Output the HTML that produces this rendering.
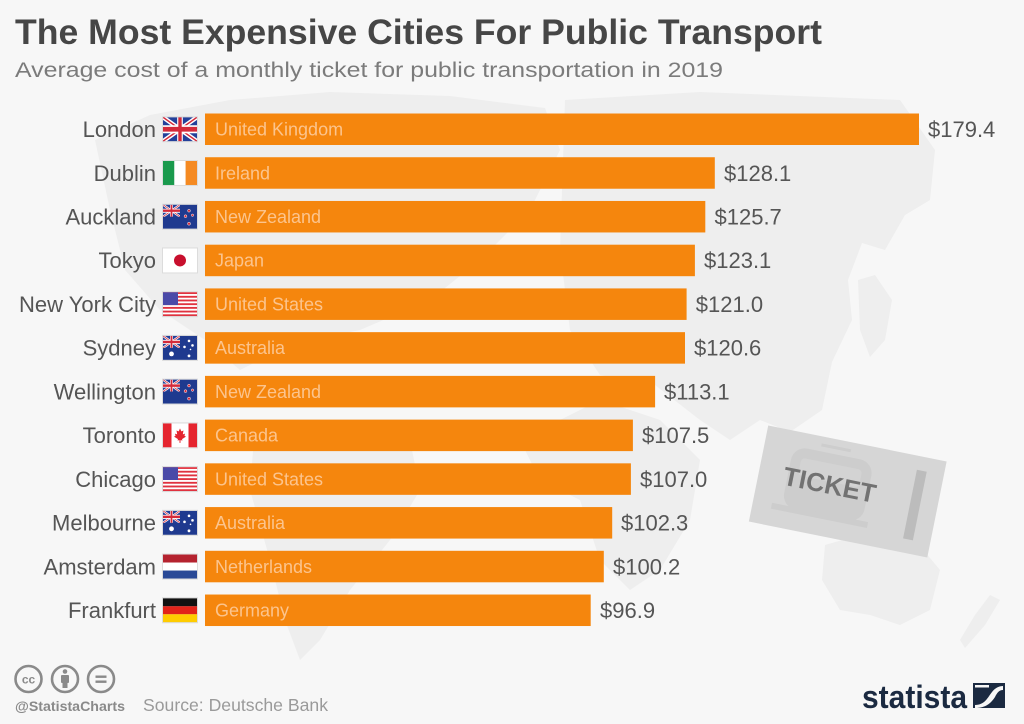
<!DOCTYPE html>
<html>
<head>
<meta charset="utf-8">
<style>
html,body{margin:0;padding:0;background:#f7f7f7;}
svg{display:block;}
text{font-family:"Liberation Sans",sans-serif;}
</style>
</head>
<body>
<svg width="1024" height="724" viewBox="0 0 1024 724" xmlns="http://www.w3.org/2000/svg">
<defs>
  <symbol id="uk" viewBox="0 0 60 30" preserveAspectRatio="none">
    <rect width="60" height="30" fill="#23409a"/>
    <path d="M0,0 L60,30 M60,0 L0,30" stroke="#fff" stroke-width="6"/>
    <path d="M0,0 L60,30 M60,0 L0,30" stroke="#d42a3a" stroke-width="2"/>
    <path d="M30,0 V30 M0,15 H60" stroke="#fff" stroke-width="10"/>
    <path d="M30,0 V30 M0,15 H60" stroke="#d42a3a" stroke-width="6"/>
  </symbol>
  <symbol id="ie" viewBox="0 0 34 24" preserveAspectRatio="none">
    <rect x="0" width="11.4" height="24" fill="#1a9a4d"/>
    <rect x="11.3" width="11.4" height="24" fill="#ffffff"/>
    <rect x="22.6" width="11.4" height="24" fill="#f58a22"/>
  </symbol>
  <symbol id="nz" viewBox="0 0 34 24" preserveAspectRatio="none">
    <rect width="34" height="24" fill="#1f3a8f"/>
    <use href="#uk" x="0" y="0" width="17" height="12"/>
    <circle cx="26" cy="6" r="1.4" fill="#d42a3a" stroke="#fff" stroke-width="0.5"/>
    <circle cx="22.5" cy="11.5" r="1.4" fill="#d42a3a" stroke="#fff" stroke-width="0.5"/>
    <circle cx="29.5" cy="10.5" r="1.2" fill="#d42a3a" stroke="#fff" stroke-width="0.5"/>
    <circle cx="26" cy="19" r="1.5" fill="#d42a3a" stroke="#fff" stroke-width="0.5"/>
  </symbol>
  <symbol id="au" viewBox="0 0 34 24" preserveAspectRatio="none">
    <rect width="34" height="24" fill="#1f3a8f"/>
    <use href="#uk" x="0" y="0" width="17" height="12"/>
    <circle cx="8.5" cy="18" r="2.4" fill="#fff"/>
    <circle cx="26" cy="5" r="1.3" fill="#fff"/>
    <circle cx="21.5" cy="11" r="1.3" fill="#fff"/>
    <circle cx="29.5" cy="9.5" r="1.3" fill="#fff"/>
    <circle cx="26" cy="20" r="1.4" fill="#fff"/>
    <circle cx="27.5" cy="13.5" r="0.8" fill="#fff"/>
  </symbol>
  <symbol id="jp" viewBox="0 0 34 24" preserveAspectRatio="none">
    <rect width="34" height="24" fill="#ffffff"/>
    <circle cx="17" cy="12" r="6" fill="#c8102e"/>
  </symbol>
  <symbol id="us" viewBox="0 0 34 24" preserveAspectRatio="none">
    <rect width="34" height="24" fill="#fff"/>
    <g fill="#e0323f">
      <rect y="0" width="34" height="1.85"/>
      <rect y="3.69" width="34" height="1.85"/>
      <rect y="7.38" width="34" height="1.85"/>
      <rect y="11.08" width="34" height="1.85"/>
      <rect y="14.77" width="34" height="1.85"/>
      <rect y="18.46" width="34" height="1.85"/>
      <rect y="22.15" width="34" height="1.85"/>
    </g>
    <rect width="15" height="12.9" fill="#4a4aa8"/>
  </symbol>
  <symbol id="ca" viewBox="0 0 34 24" preserveAspectRatio="none">
    <rect width="34" height="24" fill="#fff"/>
    <rect width="8.5" height="24" fill="#e5252f"/>
    <rect x="25.5" width="8.5" height="24" fill="#e5252f"/>
    <path d="M17,5 L18.3,8 L20.5,7.2 L19.8,11 L22,10.3 L21.5,12.5 L23,13.3 L19,15.8 L19.5,17.2 L17.5,16.8 L17.5,19.5 L16.5,19.5 L16.5,16.8 L14.5,17.2 L15,15.8 L11,13.3 L12.5,12.5 L12,10.3 L14.2,11 L13.5,7.2 L15.7,8 Z" fill="#e5252f"/>
  </symbol>
  <symbol id="nl" viewBox="0 0 34 24" preserveAspectRatio="none">
    <rect width="34" height="8" fill="#b5232f"/>
    <rect y="8" width="34" height="8" fill="#fff"/>
    <rect y="16" width="34" height="8" fill="#2a4a97"/>
  </symbol>
  <symbol id="de" viewBox="0 0 34 24" preserveAspectRatio="none">
    <rect width="34" height="8" fill="#111"/>
    <rect y="8" width="34" height="8" fill="#e2231a"/>
    <rect y="16" width="34" height="8" fill="#ffcc00"/>
  </symbol>
</defs>

<rect width="1024" height="724" fill="#f7f7f7"/>

<!-- faint world map -->
<g fill="#eeeeee">
  <path d="M95,140 L150,115 L230,100 L330,92 L450,96 L545,108 L560,150 L530,210 L480,260 L430,300 L360,330 L290,345 L240,370 L205,340 L160,310 L125,270 L110,210 Z"/>
  <path d="M255,425 L330,420 L410,440 L420,490 L390,540 L350,590 L320,640 L300,660 L285,620 L270,560 L250,490 Z"/>
  <path d="M565,100 L700,92 L900,100 L935,150 L930,200 L905,215 L885,250 L862,243 L848,280 L852,320 L832,362 L822,410 L790,432 L760,420 L730,440 L700,420 L655,385 L600,375 L570,330 L560,250 Z"/>
  <path d="M520,440 L600,400 L660,420 L700,460 L690,520 L660,570 L630,590 L600,560 L580,500 L540,480 Z"/>
  <path d="M825,545 L870,532 L915,540 L940,570 L930,610 L900,625 L870,615 L840,610 L822,580 Z"/>
  <path d="M960,640 L975,615 L990,595 L1000,600 L985,625 L965,648 Z"/>
  <path d="M858,280 L875,275 L892,300 L885,340 L870,357 L860,330 Z"/>
</g>

<!-- Title -->
<text x="15" y="44" font-size="35" font-weight="bold" fill="#464646" textLength="807" lengthAdjust="spacingAndGlyphs">The Most Expensive Cities For Public Transport</text>
<text x="15" y="77" font-size="21" fill="#7b7b7b" textLength="708" lengthAdjust="spacingAndGlyphs">Average cost of a monthly ticket for public transportation in 2019</text>

<!-- Ticket -->
<g transform="translate(847.75,491.5) rotate(11.4)">
  <rect x="-91" y="-49" width="182" height="98" fill="#d6d6d6"/>
  <g fill="#cdcdcd">
    <rect x="-62" y="-34" width="82" height="62" rx="14"/>
    <rect x="-72" y="26" width="98" height="6"/>
    <rect x="-35" y="-42" width="30" height="3"/>
  </g>
  <rect x="-52" y="-24" width="62" height="18" rx="4" fill="#d3d3d3"/>
  <rect x="63.5" y="-35" width="10" height="70" fill="#bcbcbc"/>
  <text x="-19" y="6" font-size="26" font-weight="bold" fill="#727272" text-anchor="middle">TICKET</text>
</g>

<!-- Bars -->
<g fill="#f5860d">
  <rect x="205" y="113.5" width="714" height="31.5"/>
  <rect x="205" y="157.23" width="509.8" height="31.5"/>
  <rect x="205" y="200.96" width="500.3" height="31.5"/>
  <rect x="205" y="244.69" width="489.9" height="31.5"/>
  <rect x="205" y="288.42" width="481.6" height="31.5"/>
  <rect x="205" y="332.15" width="480" height="31.5"/>
  <rect x="205" y="375.88" width="450.1" height="31.5"/>
  <rect x="205" y="419.61" width="427.9" height="31.5"/>
  <rect x="205" y="463.34" width="425.9" height="31.5"/>
  <rect x="205" y="507.07" width="407.2" height="31.5"/>
  <rect x="205" y="550.8" width="398.8" height="31.5"/>
  <rect x="205" y="594.53" width="385.7" height="31.5"/>
</g>

<!-- Bar inner labels -->
<g font-size="18" fill="#fcc48d">
  <text x="215" y="135.6">United Kingdom</text>
  <text x="215" y="179.3">Ireland</text>
  <text x="215" y="223">New Zealand</text>
  <text x="215" y="266.7">Japan</text>
  <text x="215" y="310.5">United States</text>
  <text x="215" y="354.2">Australia</text>
  <text x="215" y="397.9">New Zealand</text>
  <text x="215" y="441.7">Canada</text>
  <text x="215" y="485.4">United States</text>
  <text x="215" y="529.1">Australia</text>
  <text x="215" y="572.9">Netherlands</text>
  <text x="215" y="616.6">Germany</text>
</g>

<!-- Value labels -->
<g font-size="22" fill="#555555">
  <text x="928" y="137.1">$179.4</text>
  <text x="724" y="180.8">$128.1</text>
  <text x="714.5" y="224.5">$125.7</text>
  <text x="704" y="268.2">$123.1</text>
  <text x="695.8" y="312">$121.0</text>
  <text x="694" y="355.7">$120.6</text>
  <text x="664" y="399.4">$113.1</text>
  <text x="642" y="443.2">$107.5</text>
  <text x="640" y="486.9">$107.0</text>
  <text x="621" y="530.6">$102.3</text>
  <text x="613" y="574.4">$100.2</text>
  <text x="600" y="618.1">$96.9</text>
</g>

<!-- City labels -->
<g font-size="22" fill="#555555" text-anchor="end">
  <text x="156" y="137.1">London</text>
  <text x="156" y="180.8">Dublin</text>
  <text x="156" y="224.5">Auckland</text>
  <text x="156" y="268.2">Tokyo</text>
  <text x="156" y="312">New York City</text>
  <text x="156" y="355.7">Sydney</text>
  <text x="156" y="399.4">Wellington</text>
  <text x="156" y="443.2">Toronto</text>
  <text x="156" y="486.9">Chicago</text>
  <text x="156" y="530.6">Melbourne</text>
  <text x="156" y="574.4">Amsterdam</text>
  <text x="156" y="618.1">Frankfurt</text>
</g>

<!-- Flags -->
<g>
  <g fill="#dcdcdc">
    <rect x="162" y="116.25" width="36" height="26"/>
    <rect x="162" y="159.98" width="36" height="26"/>
    <rect x="162" y="203.71" width="36" height="26"/>
    <rect x="162" y="247.44" width="36" height="26"/>
    <rect x="162" y="291.17" width="36" height="26"/>
    <rect x="162" y="334.9" width="36" height="26"/>
    <rect x="162" y="378.63" width="36" height="26"/>
    <rect x="162" y="422.36" width="36" height="26"/>
    <rect x="162" y="466.09" width="36" height="26"/>
    <rect x="162" y="509.82" width="36" height="26"/>
    <rect x="162" y="553.55" width="36" height="26"/>
    <rect x="162" y="597.28" width="36" height="26"/>
  </g>
  <use href="#uk" x="163" y="117.25" width="34" height="24"/>
  <use href="#ie" x="163" y="160.98" width="34" height="24"/>
  <use href="#nz" x="163" y="204.71" width="34" height="24"/>
  <use href="#jp" x="163" y="248.44" width="34" height="24"/>
  <use href="#us" x="163" y="292.17" width="34" height="24"/>
  <use href="#au" x="163" y="335.9" width="34" height="24"/>
  <use href="#nz" x="163" y="379.63" width="34" height="24"/>
  <use href="#ca" x="163" y="423.36" width="34" height="24"/>
  <use href="#us" x="163" y="467.09" width="34" height="24"/>
  <use href="#au" x="163" y="510.82" width="34" height="24"/>
  <use href="#nl" x="163" y="554.55" width="34" height="24"/>
  <use href="#de" x="163" y="598.28" width="34" height="24"/>
</g>

<!-- Footer: CC icons -->
<g fill="none" stroke="#8a8a8a" stroke-width="2.6">
  <circle cx="28.5" cy="679" r="13"/>
  <circle cx="65" cy="679" r="13"/>
  <circle cx="101" cy="679" r="13"/>
</g>
<text x="28.5" y="683.5" font-size="12" font-weight="bold" fill="#8a8a8a" text-anchor="middle">cc</text>
<g fill="#8a8a8a">
  <circle cx="65" cy="671.5" r="2.3"/>
  <rect x="61" y="675" width="8" height="8" rx="1"/>
  <rect x="62.5" y="682" width="5" height="6"/>
  <rect x="95.5" y="675.5" width="11" height="2.4"/>
  <rect x="95.5" y="680.5" width="11" height="2.4"/>
</g>
<text x="15" y="711" font-size="14" font-weight="bold" fill="#8a8a8a" textLength="110" lengthAdjust="spacingAndGlyphs">@StatistaCharts</text>
<text x="143" y="711" font-size="17.5" fill="#9a9a9a" textLength="185" lengthAdjust="spacingAndGlyphs">Source: Deutsche Bank</text>

<!-- Statista logo -->
<text x="862" y="708" font-size="32" font-weight="bold" fill="#1b2a41" textLength="105" lengthAdjust="spacingAndGlyphs">statista</text>
<rect x="973" y="683" width="32" height="25" fill="#1b2a41"/>
<path d="M975,705 C985,705 988,697 992,692 C995,688 999,686 1003,686 L1003,690 C999,690 997,693 995,697 C991,703 986,708 975,708 Z" fill="#f7f7f7"/>
<rect x="975" y="685" width="14" height="2.5" fill="#f7f7f7"/>
</svg>
</body>
</html>
